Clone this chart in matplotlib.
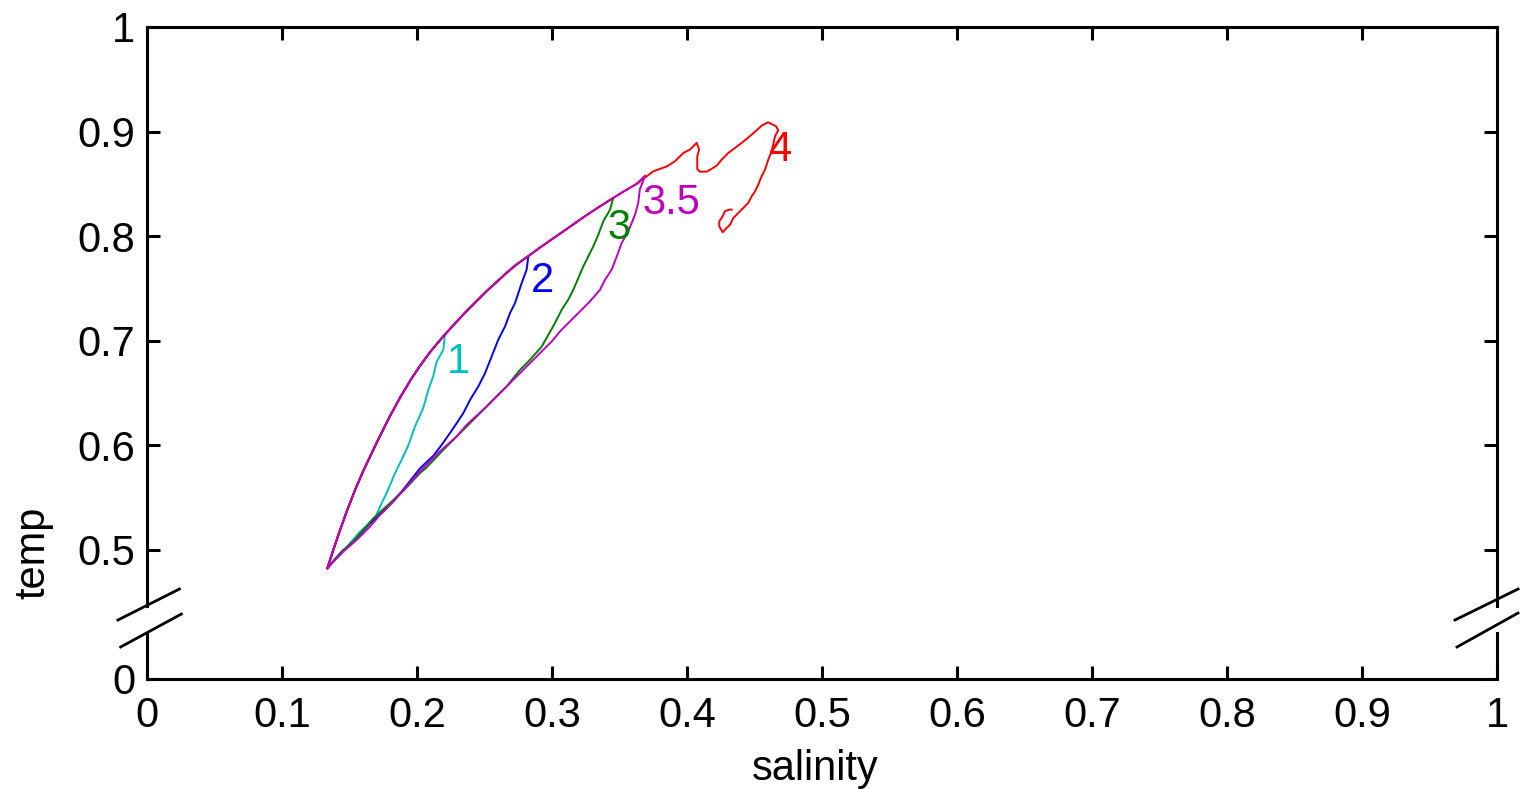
import matplotlib
matplotlib.use("Agg")
import matplotlib.pyplot as plt
from matplotlib.lines import Line2D

plt.rcParams['font.family'] = ['Liberation Sans', 'DejaVu Sans']

# Shared rising branch of the T-S loops (salinity, temperature)
rise_sal = [0.1336, 0.138, 0.143, 0.148, 0.154, 0.160, 0.167, 0.1726, 0.180,
            0.1874, 0.195, 0.2022, 0.2096, 0.217, 0.2207, 0.227, 0.2368,
            0.2516, 0.2664, 0.2738, 0.2825, 0.291, 0.301, 0.3133, 0.3232,
            0.3331, 0.3454, 0.3528, 0.3627, 0.369]
rise_temp = [0.4825, 0.500, 0.519, 0.537, 0.557, 0.575, 0.594, 0.609, 0.628,
             0.6455, 0.662, 0.676, 0.689, 0.7005, 0.706, 0.715, 0.7285,
             0.7475, 0.765, 0.773, 0.781, 0.789, 0.798, 0.809, 0.818,
             0.8265, 0.8366, 0.8425, 0.850, 0.858]

# Return branch of each loop
ret_sal_1 = [0.2195, 0.2146, 0.212, 0.2084, 0.2047, 0.1985, 0.1936, 0.1886,
             0.1837, 0.1775, 0.1726, 0.1689, 0.165, 0.1578, 0.1504, 0.143,
             0.1368, 0.1336]
ret_temp_1 = [0.6914, 0.680, 0.666, 0.653, 0.636, 0.618, 0.600, 0.5861,
              0.5734, 0.5543, 0.5415, 0.5303, 0.5255, 0.5175, 0.5064, 0.4952,
              0.4873, 0.4825]

ret_sal_2 = [0.2812, 0.2775, 0.2726, 0.2689, 0.2652, 0.2602, 0.2553, 0.2504,
             0.2454, 0.2393, 0.2343, 0.2294, 0.2244, 0.2183, 0.2121, 0.2022,
             0.1886, 0.1775, 0.1652, 0.154, 0.143, 0.1336]
ret_temp_2 = [0.768, 0.755, 0.736, 0.7265, 0.7137, 0.701, 0.685, 0.669,
              0.6563, 0.6435, 0.6308, 0.6212, 0.6117, 0.6005, 0.590, 0.578,
              0.5558, 0.540, 0.5255, 0.5096, 0.4968, 0.4825]

ret_sal_3 = [0.343, 0.338, 0.3343, 0.3306, 0.3269, 0.3232, 0.3195, 0.3158,
             0.312, 0.3072, 0.3022, 0.2973, 0.2924, 0.2837, 0.2763, 0.2664,
             0.2565, 0.2467, 0.2343, 0.2195, 0.2072, 0.2022, 0.1895, 0.1677,
             0.159, 0.1516, 0.1454, 0.1336]
ret_temp_3 = [0.8254, 0.8142, 0.8014, 0.7903, 0.7807, 0.7711, 0.760, 0.7488,
              0.7392, 0.7297, 0.7169, 0.7057, 0.6945, 0.6818, 0.6722, 0.6563,
              0.6435, 0.6308, 0.6148, 0.5957, 0.579, 0.5734, 0.556, 0.5303,
              0.5175, 0.5064, 0.500, 0.4825]

ret_sal_35 = [0.365, 0.3639, 0.3615, 0.3565, 0.3516, 0.348, 0.3442, 0.3393,
              0.3356, 0.3281, 0.3207, 0.3133, 0.3059, 0.2998, 0.2936, 0.2812,
              0.2664, 0.2516, 0.2368, 0.2294, 0.2146, 0.1998, 0.1923, 0.1825,
              0.1726, 0.1652, 0.1553, 0.1454, 0.138, 0.1336]
ret_temp_35 = [0.8445, 0.8318, 0.8206, 0.8046, 0.7935, 0.7807, 0.768, 0.7584,
               0.7488, 0.7376, 0.728, 0.7185, 0.7089, 0.6993, 0.6914, 0.6754,
               0.6563, 0.6372, 0.6196, 0.6085, 0.5915, 0.5718, 0.5606, 0.5462,
               0.5335, 0.5223, 0.5096, 0.4984, 0.4888, 0.4825]

ret_sal_4 = [0.375, 0.3852, 0.3911, 0.3973, 0.4022, 0.4047, 0.4072, 0.409,
             0.4076, 0.4076, 0.4096, 0.4146, 0.4183, 0.422, 0.4257, 0.4306,
             0.4356, 0.4405, 0.4442, 0.4479, 0.4516, 0.4553, 0.4602, 0.4659,
             0.4676, 0.4652, 0.4627, 0.4602, 0.4578, 0.4553, 0.4528, 0.4504,
             0.4479, 0.4454, 0.4417, 0.438, 0.4343, 0.4319, 0.4294, 0.4264,
             0.4239, 0.4239, 0.4264, 0.4281, 0.4313, 0.4331]
ret_temp_4 = [0.862, 0.8668, 0.8716, 0.8796, 0.8828, 0.886, 0.8892, 0.8828,
              0.8765, 0.8642, 0.8617, 0.8617, 0.8644, 0.8675, 0.8732, 0.8796,
              0.8844, 0.8892, 0.893, 0.8971, 0.9013, 0.9057, 0.9089, 0.9051,
              0.9013, 0.8955, 0.8812, 0.8732, 0.8636, 0.8573, 0.8493, 0.8429,
              0.8381, 0.8318, 0.827, 0.8222, 0.8174, 0.811, 0.8079, 0.8037,
              0.8094, 0.8142, 0.819, 0.8238, 0.8254, 0.8254]

loop_names = ['1', '2', '3', '3.5', '4']
loop_colors = [(0, 0.75, 0.75), (0, 0, 1), (0, 0.5, 0), (0.75, 0, 0.75), (1, 0, 0)]
loop_peak_index = [14, 20, 26, 29, 28]
loop_ret_sal = [ret_sal_1, ret_sal_2, ret_sal_3, ret_sal_35, ret_sal_4]
loop_ret_temp = [ret_temp_1, ret_temp_2, ret_temp_3, ret_temp_35, ret_temp_4]
label_sal = [0.2304, 0.2926, 0.3499, 0.3881, 0.4696]
label_temp = [0.6694, 0.7466, 0.7973, 0.8215, 0.8716]

x_ticks = [0, 0.1, 0.2, 0.3, 0.4, 0.5, 0.6, 0.7, 0.8, 0.9, 1.0]
x_tick_labels = ['0', '0.1', '0.2', '0.3', '0.4', '0.5', '0.6', '0.7', '0.8', '0.9', '1']
temp_ticks = [0.5, 0.6, 0.7, 0.8, 0.9, 1.0]
temp_tick_labels = ['0.5', '0.6', '0.7', '0.8', '0.9', '1']

# The temperature axis is broken: zero is drawn just below the break
ZERO_POS = 0.3766
BREAK_LO = 0.4206
BREAK_HI = 0.4464

fig = plt.figure(figsize=(15.2, 7.89), dpi=100)
ax = fig.add_axes([147 / 1520, 1 - 679 / 789, 1350 / 1520, 652 / 789])

draw_order = [0, 1, 2, 4, 3]
for i in draw_order:
    k = loop_peak_index[i]
    xs = rise_sal[:k + 1] + loop_ret_sal[i]
    ys = rise_temp[:k + 1] + loop_ret_temp[i]
    ax.plot(xs, ys, color=loop_colors[i], lw=1.4)

for i in range(len(loop_names)):
    ax.text(label_sal[i], label_temp[i], loop_names[i], color=loop_colors[i],
            fontsize=30, ha='center', va='baseline')

ax.set_xlim(0, 1)
ax.set_ylim(ZERO_POS, 1.0)
ax.set_xticks(x_ticks)
ax.set_xticklabels(x_tick_labels)
ax.set_yticks([ZERO_POS] + temp_ticks)
ax.set_yticklabels(['0'] + temp_tick_labels)

ax.tick_params(direction='in', length=9.5, width=2.2, top=True, right=True,
               labelsize=30, colors='black')
ax.tick_params(axis='x', pad=12)
ax.tick_params(axis='y', pad=8.5)

for s in ax.spines.values():
    s.set_linewidth(2.2)
    s.set_capstyle('projecting')
ax.spines['left'].set_bounds(BREAK_HI, 1.0)
ax.spines['right'].set_bounds(BREAK_HI, 1.0)

ytrans = ax.get_yaxis_transform()
for xa in (0, 1):
    ax.add_line(Line2D([xa, xa], [ZERO_POS, BREAK_LO], transform=ytrans,
                       color='black', lw=2.2, clip_on=False,
                       solid_capstyle='projecting'))

# Break marks across both vertical spines
slash_x = [(-0.0215, 0.024), (0.9689, 1.0156)]
slash_x_low = [(-0.0195, 0.0255), (0.9704, 1.0156)]
slash_y_low = [(0.0491, 0.0997), (0.0491, 0.1012)]
for j in range(2):
    ax.add_line(Line2D(slash_x[j], [0.0905, 0.138],
                       transform=ax.transAxes, color='black', lw=2.0,
                       clip_on=False))
    ax.add_line(Line2D(slash_x_low[j], slash_y_low[j],
                       transform=ax.transAxes, color='black', lw=2.0,
                       clip_on=False))

ax.set_xlabel('salinity', fontsize=30)
ax.set_ylabel('temp', fontsize=30)
ax.xaxis.set_label_coords(0.4948, -0.108)
ax.yaxis.set_label_coords(-0.0696, 0.193)

fig.savefig('out.png', dpi=100)
